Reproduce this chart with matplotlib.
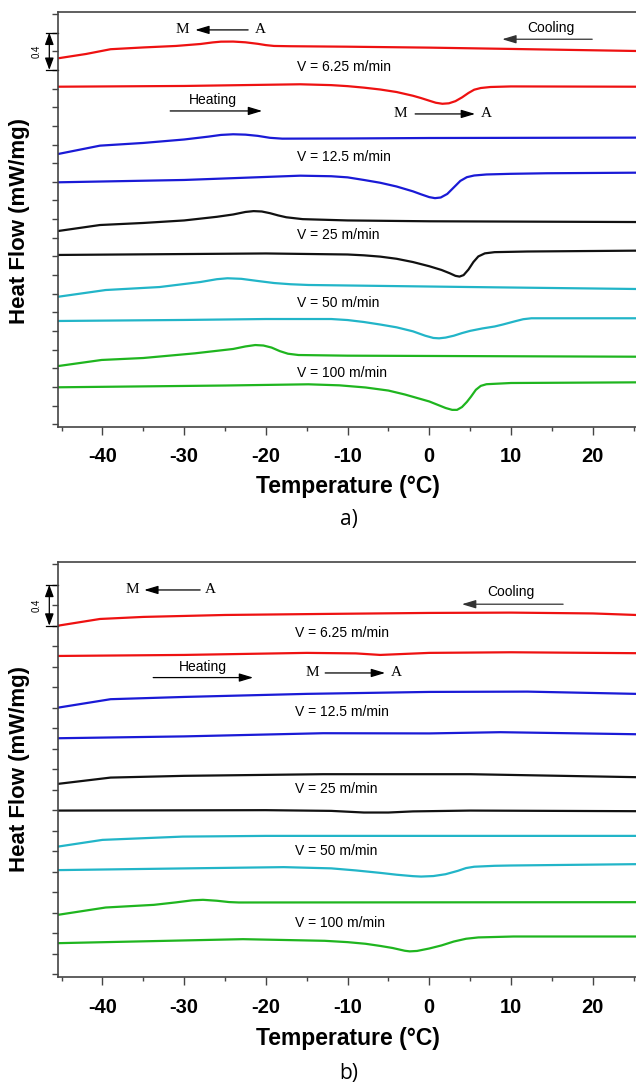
import numpy as np
import matplotlib
matplotlib.use("Agg")
import matplotlib.pyplot as plt
from matplotlib import transforms

plt.rcParams["axes.unicode_minus"] = False

# DSC traces: (temperature degC, stacked heat flow mW/mg)
# ---- panel a) ----
a_red_cool = [(-45.4, 3.925), (-42, 3.971), (-39, 4.022), (-35, 4.041), (-31, 4.057),
              (-28, 4.078), (-26.5, 4.095), (-25.5, 4.103), (-24, 4.104), (-22.5, 4.096),
              (-21, 4.080), (-20, 4.066), (-19, 4.057), (-17, 4.054), (-10, 4.049),
              (0, 4.039), (10, 4.025), (25.3, 4.003)]
a_red_heat = [(-45.4, 3.620), (-30, 3.628), (-15.8, 3.646), (-12, 3.637), (-10, 3.626),
              (-8, 3.610), (-6, 3.590), (-4, 3.563), (-2, 3.523), (-1, 3.498), (0, 3.470),
              (0.8, 3.448), (1.6, 3.437), (2.4, 3.442), (3.2, 3.465), (4, 3.505),
              (4.8, 3.553), (5.5, 3.588), (6.3, 3.606), (7.5, 3.617), (10, 3.623), (25.3, 3.620)]
a_blue_cool = [(-45.4, 2.899), (-40.3, 2.988), (-35, 3.017), (-30, 3.054), (-27, 3.085),
               (-25.5, 3.103), (-24, 3.110), (-22.5, 3.106), (-21, 3.093), (-19.5, 3.072),
               (-18, 3.063), (-10, 3.065), (0, 3.070), (25.3, 3.074)]
a_blue_heat = [(-45.4, 2.595), (-30, 2.620), (-15.8, 2.666), (-12, 2.660), (-10, 2.648),
               (-8, 2.620), (-6, 2.590), (-4, 2.550), (-2, 2.498), (-1, 2.466), (0, 2.436),
               (0.7, 2.425), (1.4, 2.432), (2.2, 2.470), (3, 2.540), (3.8, 2.610),
               (4.6, 2.650), (5.5, 2.668), (7, 2.679), (10, 2.686), (14.4, 2.692), (25.3, 2.698)]
a_black_cool = [(-45.4, 2.073), (-40.3, 2.137), (-35, 2.159), (-30, 2.186), (-26, 2.225),
                (-24, 2.250), (-22.5, 2.277), (-21.5, 2.286), (-20.5, 2.282), (-19.5, 2.264),
                (-18.5, 2.240), (-17.5, 2.220), (-15.5, 2.200), (-10, 2.186), (0, 2.177),
                (25.3, 2.169)]
a_black_heat = [(-45.4, 1.816), (-20, 1.832), (-10, 1.821), (-8, 1.812), (-6, 1.798),
                (-4, 1.775), (-2, 1.740), (0, 1.695), (1.5, 1.655), (2.5, 1.620),
                (3.2, 1.592), (3.7, 1.584), (4.2, 1.600), (4.8, 1.660), (5.4, 1.740),
                (6, 1.800), (6.8, 1.833), (8, 1.846), (12, 1.853), (25.3, 1.862)]
a_cyan_cool = [(-45.4, 1.368), (-39.6, 1.440), (-33, 1.472), (-28, 1.526), (-26, 1.556),
               (-24.7, 1.566), (-23, 1.560), (-21, 1.537), (-19, 1.515), (-17, 1.502),
               (-14.8, 1.494), (-5, 1.483), (5, 1.472), (25.3, 1.451)]
a_cyan_heat = [(-45.4, 1.108), (-30, 1.119), (-20, 1.129), (-12, 1.129), (-10, 1.118),
               (-8, 1.097), (-6, 1.070), (-4, 1.040), (-2, 0.997), (-0.5, 0.950),
               (0.5, 0.926), (1.2, 0.922), (2, 0.930), (3, 0.950), (4, 0.978), (5, 1.002),
               (6.5, 1.028), (8, 1.049), (9, 1.070), (10.5, 1.105), (11.5, 1.127),
               (12.5, 1.137), (25.3, 1.137)]
a_green_cool = [(-45.4, 0.625), (-40.1, 0.690), (-35, 0.711), (-28.7, 0.761), (-24, 0.808),
                (-22.5, 0.835), (-21.3, 0.850), (-20.3, 0.845), (-19.3, 0.823),
                (-18.3, 0.785), (-17.3, 0.757), (-16, 0.743), (-10, 0.736), (25.3, 0.725)]
a_green_heat = [(-45.4, 0.397), (-25, 0.416), (-14.8, 0.429), (-11, 0.418), (-7.8, 0.395),
                (-5, 0.362), (-3, 0.320), (-1.4, 0.280), (0, 0.245), (1, 0.210), (2, 0.175),
                (2.8, 0.155), (3.4, 0.155), (4, 0.185), (4.6, 0.240), (5.1, 0.296),
                (5.7, 0.370), (6.3, 0.412), (7, 0.430), (10, 0.443), (25.3, 0.450)]

# ---- panel b) ----
b_red_cool = [(-45.4, 3.401), (-40.3, 3.466), (-35, 3.486), (-25, 3.505), (-13, 3.515),
              (0, 3.525), (10, 3.528), (20, 3.520), (25.3, 3.505)]
b_red_heat = [(-45.4, 3.105), (-30, 3.115), (-15, 3.135), (-9, 3.130), (-6, 3.115),
              (-3, 3.125), (0, 3.135), (10, 3.141), (25.3, 3.132)]
b_blue_cool = [(-45.4, 2.601), (-39, 2.683), (-30, 2.705), (-15, 2.735), (0, 2.754),
               (12, 2.757), (25.3, 2.735)]
b_blue_heat = [(-45.4, 2.302), (-30, 2.320), (-13, 2.351), (0, 2.349), (8.7, 2.361),
               (25.3, 2.341)]
b_black_cool = [(-45.4, 1.857), (-39, 1.918), (-30, 1.935), (-13, 1.951), (5, 1.951),
                (25.3, 1.922)]
b_black_heat = [(-45.4, 1.596), (-20, 1.600), (-12, 1.593), (-8, 1.577), (-5, 1.577),
                (-2, 1.588), (5, 1.596), (25.3, 1.590)]
b_cyan_cool = [(-45.4, 1.245), (-40, 1.310), (-30.2, 1.342), (-20, 1.349), (25.3, 1.349)]
b_cyan_heat = [(-45.4, 1.015), (-27.7, 1.034), (-17.8, 1.044), (-12, 1.032), (-9, 1.012),
               (-6, 0.988), (-4, 0.970), (-2, 0.956), (-1, 0.952), (0.5, 0.957), (2, 0.975),
               (3.5, 1.008), (4.5, 1.035), (5.5, 1.048), (8, 1.057), (10, 1.060), (25.3, 1.073)]
b_green_cool = [(-45.4, 0.579), (-39.6, 0.650), (-33.7, 0.676), (-31, 0.700), (-29, 0.720),
                (-27.7, 0.725), (-26, 0.716), (-24.5, 0.703), (-23.3, 0.699), (25.3, 0.702)]
b_green_heat = [(-45.4, 0.302), (-22.8, 0.341), (-12.8, 0.325), (-10, 0.312), (-7.8, 0.296),
                (-6, 0.275), (-4.5, 0.255), (-3, 0.228), (-2.4, 0.222), (-1.5, 0.226),
                (0, 0.250), (1.5, 0.280), (3, 0.318), (4.5, 0.345), (6, 0.358),
                (10.3, 0.367), (25.3, 0.367)]

speeds = ["6.25", "12.5", "25", "50", "100"]
colors = ["#ee1111", "#1a1ad6", "#111111", "#22b5c8", "#1fb51f"]

a_curves = [(a_red_cool, a_red_heat), (a_blue_cool, a_blue_heat),
            (a_black_cool, a_black_heat), (a_cyan_cool, a_cyan_heat),
            (a_green_cool, a_green_heat)]
b_curves = [(b_red_cool, b_red_heat), (b_blue_cool, b_blue_heat),
            (b_black_cool, b_black_heat), (b_cyan_cool, b_cyan_heat),
            (b_green_cool, b_green_heat)]

SANS = "Liberation Sans"
SERIF = "Liberation Serif"
SPINE = "#444444"


def arrow(ax, x0, x1, y, color="black"):
    ax.annotate("", xy=(x1, y), xytext=(x0, y),
                arrowprops=dict(arrowstyle="-|>,head_length=0.6,head_width=0.18",
                                color=color, lw=0.9, shrinkA=0, shrinkB=0,
                                mutation_scale=14))


def scale_bar(ax, y0, y1):
    tr = transforms.blended_transform_factory(ax.transAxes, ax.transData)
    ax.annotate("", xy=(-0.0156, y1), xytext=(-0.0156, y0), xycoords=tr, textcoords=tr,
                arrowprops=dict(arrowstyle="<|-|>,head_length=0.6,head_width=0.22",
                                color="black", lw=0.9, shrinkA=0, shrinkB=0,
                                mutation_scale=12),
                annotation_clip=False)
    for y in (y0, y1):
        ax.plot([-0.021, 0], [y, y], transform=tr, color="black", lw=0.9, clip_on=False)
    ax.text(-0.037, (y0 + y1) / 2, "0.4", transform=tr, rotation=90, ha="center",
            va="center", fontsize=7, family=SANS)


def style_axes(ax, ytop, nticks):
    ax.set_xlim(-45.4, 25.3)
    ax.set_ylim(-0.025, ytop)
    ax.set_xticks(np.arange(-40, 21, 10))
    ax.set_xticks(np.arange(-45, 26, 10), minor=True)
    ax.set_yticks(np.arange(nticks) * 0.2)
    ax.set_yticklabels([])
    ax.tick_params(axis="x", which="major", direction="out", length=6, width=1,
                   color=SPINE, pad=9, labelsize=14.5)
    ax.tick_params(axis="x", which="minor", direction="out", length=3, width=1, color=SPINE)
    ax.tick_params(axis="y", direction="out", length=4.3, width=1, color=SPINE)
    for lab in ax.get_xticklabels():
        lab.set_fontweight("bold")
        lab.set_family(SANS)
    ax.spines["right"].set_visible(False)
    for s in ("left", "bottom", "top"):
        ax.spines[s].set_color(SPINE)
        ax.spines[s].set_linewidth(1.2)


def draw_panel(ax, curves):
    for (cool, heat), c in zip(curves, colors):
        for trace in (cool, heat):
            t, v = zip(*trace)
            ax.plot(t, v, color=c, lw=1.6, solid_capstyle="round", solid_joinstyle="round")


fig = plt.figure(figsize=(6.36, 10.87), dpi=100)
ax_a = fig.add_axes([0.0917, 0.6075, 0.9083, 0.3818])
ax_b = fig.add_axes([0.0917, 0.1015, 0.9083, 0.3812])

# ---- panel a ----
draw_panel(ax_a, a_curves)
style_axes(ax_a, 4.425, 23)
scale_bar(ax_a, 3.8, 4.2)
ax_a.text(-30.28, 4.229, "M", family=SERIF, fontsize=11, ha="center", va="center")
arrow(ax_a, -22.17, -28.65, 4.229)
ax_a.text(-20.7, 4.229, "A", family=SERIF, fontsize=11, ha="center", va="center")
ax_a.text(14.88, 4.247, "Cooling", family=SANS, fontsize=10, ha="center", va="center")
arrow(ax_a, 19.94, 8.92, 4.129, color="#333333")
ax_a.text(-26.45, 3.478, "Heating", family=SANS, fontsize=10, ha="center", va="center")
arrow(ax_a, -31.71, -20.45, 3.360)
ax_a.text(-3.5, 3.338, "M", family=SERIF, fontsize=11, ha="center", va="center")
arrow(ax_a, -1.73, 5.61, 3.328)
ax_a.text(7.03, 3.338, "A", family=SERIF, fontsize=11, ha="center", va="center")
for sp, y in zip(speeds, [3.835, 2.863, 2.030, 1.298, 0.553]):
    ax_a.text(-16.2, y, f"V = {sp} m/min", family=SANS, fontsize=10, ha="left", va="center")

# ---- panel b ----
draw_panel(ax_b, b_curves)
style_axes(ax_b, 4.019, 21)
scale_bar(ax_b, 3.4, 3.8)
ax_b.text(-36.4, 3.749, "M", family=SERIF, fontsize=11, ha="center", va="center")
arrow(ax_b, -28.04, -34.9, 3.749)
ax_b.text(-26.82, 3.749, "A", family=SERIF, fontsize=11, ha="center", va="center")
ax_b.text(9.99, 3.733, "Cooling", family=SANS, fontsize=10, ha="center", va="center")
arrow(ax_b, 16.38, 3.99, 3.610, color="#333333")
ax_b.text(-27.67, 3.001, "Heating", family=SANS, fontsize=10, ha="center", va="center")
arrow(ax_b, -33.79, -21.55, 2.894)
ax_b.text(-14.37, 2.942, "M", family=SERIF, fontsize=11, ha="center", va="center")
arrow(ax_b, -12.74, -5.4, 2.939)
ax_b.text(-3.97, 2.942, "A", family=SERIF, fontsize=11, ha="center", va="center")
for sp, y in zip(speeds, [3.327, 2.562, 1.805, 1.206, 0.498]):
    ax_b.text(-16.4, y, f"V = {sp} m/min", family=SANS, fontsize=10, ha="left", va="center")

# axis titles and captions
for yc, yx, ycap, cap in [(221, 487, 520, "a)"), (769, 1038, 1073, "b)")]:
    fig.text(20 / 636, 1 - yc / 1087, "Heat Flow (mW/mg)", rotation=90, ha="center",
             va="center", fontsize=16, fontweight="bold", family=SANS)
    fig.text(348 / 636, 1 - yx / 1087, "Temperature (°C)", ha="center", va="center",
             fontsize=16.5, fontweight="bold", family=SANS)
    fig.text(349 / 636, 1 - ycap / 1087, cap, ha="center", va="center", fontsize=15,
             family="Open Sans")

fig.savefig("out.png", dpi=100)
